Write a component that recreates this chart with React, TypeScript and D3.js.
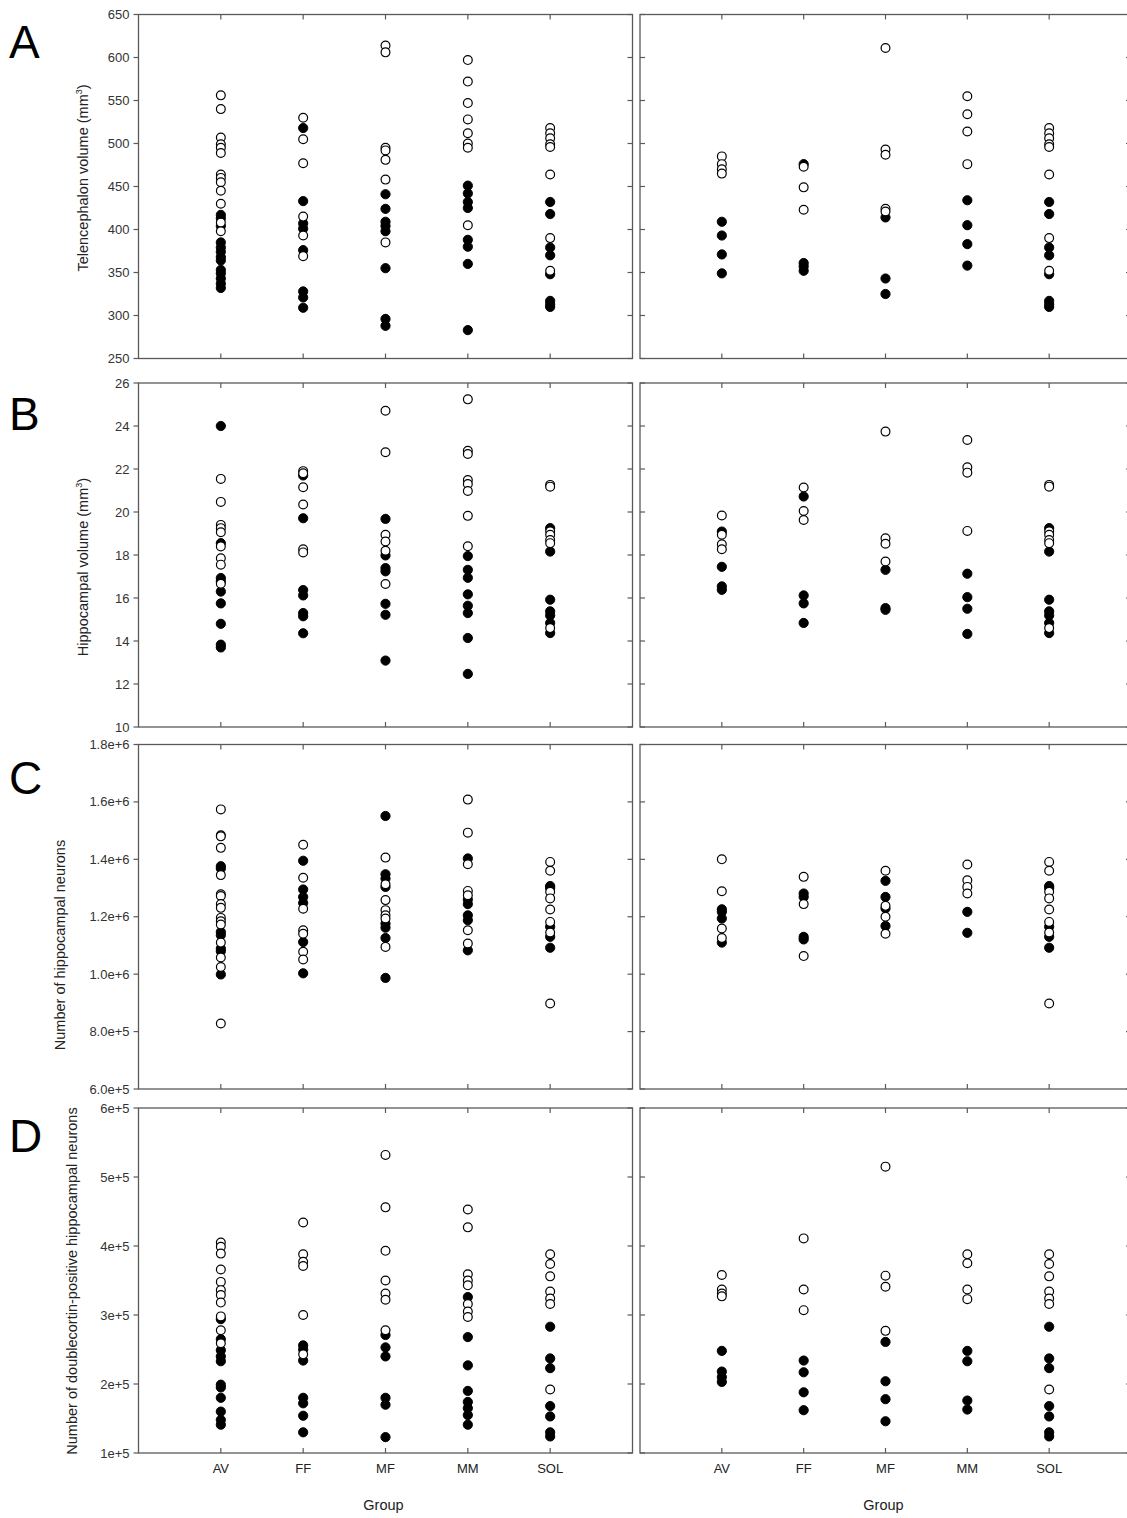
import React, { useEffect, useRef } from "react";
import * as d3 from "d3";

const groups = ["AV", "FF", "MF", "MM", "SOL"];

// A: telencephalon volume (mm3) - left / right panels, per group
const telOpenL = [
  [556, 540, 507, 499, 495, 489, 464, 460, 455, 445, 430, 408, 398],
  [530, 505, 477, 415, 393, 369],
  [614, 606, 495, 492, 481, 458, 385],
  [597, 572, 547, 528, 512, 500, 495, 405],
  [518, 512, 506, 499, 496, 464, 390, 352],
];
const telFillL = [
  [417, 413, 404, 385, 379, 374, 368, 364, 353, 349, 343, 337, 332],
  [518, 433, 407, 401, 376, 328, 321, 309],
  [441, 424, 409, 404, 398, 355, 296, 288],
  [451, 442, 432, 425, 388, 380, 360, 283],
  [432, 418, 379, 370, 348, 317, 313, 310],
];
const telOpenR = [
  [485, 476, 470, 465],
  [473, 449, 423],
  [611, 493, 487, 424, 421],
  [555, 534, 514, 476],
  telOpenL[4],
];
const telFillR = [
  [409, 393, 371, 349],
  [476, 361, 357, 352],
  [414, 343, 325],
  [434, 405, 383, 358],
  telFillL[4],
];

// B: hippocampal volume (mm3)
const hipOpenL = [
  [21.54, 20.47, 19.4, 19.25, 19.06, 18.4, 17.85, 17.55, 16.66],
  [21.9, 21.8, 21.15, 20.35, 18.27, 18.12],
  [24.71, 22.78, 18.94, 18.63, 18.2, 16.65],
  [25.24, 22.85, 22.7, 21.49, 21.3, 20.98, 19.82, 18.41],
  [21.26, 21.18, 19.1, 18.94, 18.7, 18.55, 14.6],
];
const hipFillL = [
  [24.0, 18.55, 16.93, 16.77, 16.3, 15.75, 14.8, 13.83, 13.7],
  [21.7, 19.71, 16.37, 16.12, 15.3, 15.15, 14.36],
  [19.68, 17.98, 17.39, 17.24, 15.73, 15.22, 13.09],
  [17.95, 17.31, 16.94, 16.17, 15.64, 15.3, 14.14, 12.47],
  [19.25, 18.16, 15.92, 15.38, 15.19, 14.84, 14.37],
];
const hipOpenR = [
  [19.84, 18.94, 18.5, 18.27],
  [21.14, 20.05, 19.63],
  [23.74, 18.78, 18.52, 17.7],
  [23.35, 22.08, 21.83, 19.12],
  hipOpenL[4],
];
const hipFillR = [
  [19.09, 17.45, 16.54, 16.38],
  [20.72, 16.12, 15.75, 14.84],
  [17.31, 15.53, 15.45],
  [17.13, 16.04, 15.5, 14.33],
  hipFillL[4],
];

// C: number of hippocampal neurons
const neuOpenL = [
  [1.574e6, 1.484e6, 1.48e6, 1.44e6, 1.345e6, 1.278e6, 1.272e6, 1.244e6, 1.231e6, 1.196e6, 1.184e6, 1.173e6, 1.11e6, 1.058e6, 1.025e6, 8.28e5],
  [1.451e6, 1.336e6, 1.228e6, 1.153e6, 1.141e6, 1.078e6, 1.051e6],
  [1.406e6, 1.313e6, 1.258e6, 1.223e6, 1.205e6, 1.194e6, 1.095e6],
  [1.608e6, 1.493e6, 1.383e6, 1.29e6, 1.275e6, 1.153e6, 1.107e6],
  [1.391e6, 1.36e6, 1.287e6, 1.264e6, 1.225e6, 1.182e6, 1.145e6, 8.98e5],
];
const neuFillL = [
  [1.376e6, 1.368e6, 1.147e6, 1.136e6, 1.089e6, 1.08e6, 9.99e5],
  [1.395e6, 1.295e6, 1.269e6, 1.248e6, 1.112e6, 1.003e6],
  [1.551e6, 1.348e6, 1.333e6, 1.304e6, 1.176e6, 1.162e6, 1.126e6, 9.87e5],
  [1.403e6, 1.26e6, 1.244e6, 1.205e6, 1.188e6, 1.083e6],
  [1.307e6, 1.3e6, 1.165e6, 1.13e6, 1.092e6],
];
const neuOpenR = [
  [1.4e6, 1.289e6, 1.159e6, 1.126e6],
  [1.339e6, 1.244e6, 1.063e6],
  [1.36e6, 1.238e6, 1.2e6, 1.141e6],
  [1.382e6, 1.327e6, 1.304e6, 1.281e6],
  neuOpenL[4],
];
const neuFillR = [
  [1.226e6, 1.217e6, 1.194e6, 1.11e6],
  [1.281e6, 1.269e6, 1.13e6, 1.121e6],
  [1.325e6, 1.269e6, 1.229e6, 1.168e6],
  [1.217e6, 1.144e6],
  neuFillL[4],
];

// D: doublecortin-positive hippocampal neurons
const dcxOpenL = [
  [4.05e5, 3.99e5, 3.89e5, 3.66e5, 3.48e5, 3.36e5, 3.29e5, 3.18e5, 2.98e5, 2.78e5, 2.59e5],
  [4.34e5, 3.88e5, 3.77e5, 3.71e5, 3.0e5, 2.43e5],
  [5.32e5, 4.56e5, 3.93e5, 3.5e5, 3.31e5, 3.22e5, 2.78e5],
  [4.53e5, 4.27e5, 3.59e5, 3.5e5, 3.43e5, 3.16e5, 3.05e5, 2.97e5],
  [3.88e5, 3.74e5, 3.56e5, 3.34e5, 3.24e5, 3.16e5, 1.92e5],
];
const dcxFillL = [
  [2.94e5, 2.65e5, 2.49e5, 2.4e5, 2.33e5, 1.99e5, 1.95e5, 1.8e5, 1.6e5, 1.48e5, 1.41e5],
  [2.56e5, 2.5e5, 2.34e5, 1.8e5, 1.72e5, 1.54e5, 1.3e5],
  [2.71e5, 2.53e5, 2.4e5, 1.8e5, 1.7e5, 1.23e5],
  [3.26e5, 2.68e5, 2.27e5, 1.9e5, 1.74e5, 1.65e5, 1.55e5, 1.41e5],
  [2.83e5, 2.37e5, 2.23e5, 1.68e5, 1.53e5, 1.3e5, 1.24e5],
];
const dcxOpenR = [
  [3.58e5, 3.37e5, 3.31e5, 3.27e5],
  [4.11e5, 3.37e5, 3.07e5],
  [5.15e5, 3.57e5, 3.41e5, 2.77e5],
  [3.88e5, 3.75e5, 3.37e5, 3.23e5],
  dcxOpenL[4],
];
const dcxFillR = [
  [2.48e5, 2.18e5, 2.1e5, 2.03e5],
  [2.34e5, 2.17e5, 1.88e5, 1.62e5],
  [2.61e5, 2.04e5, 1.78e5, 1.46e5],
  [2.48e5, 2.33e5, 1.76e5, 1.63e5],
  dcxFillL[4],
];

const telTicks = [250, 300, 350, 400, 450, 500, 550, 600, 650];
const hipTicks = [10, 12, 14, 16, 18, 20, 22, 24, 26];
const neuTicks = [6e5, 8e5, 1e6, 1.2e6, 1.4e6, 1.6e6, 1.8e6];
const dcxTicks = [1e5, 2e5, 3e5, 4e5, 5e5, 6e5];

const rows = [
  { letter: "A", top: 14.5, bottom: 358.5, letterY: 58, ticks: telTicks, fmt: (v) => String(v),
    label: "Telencephalon volume (mm", sup: true, labelX: 88, labelY: 178,
    data: [[telOpenL, telFillL], [telOpenR, telFillR]] },
  { letter: "B", top: 383, bottom: 727, letterY: 430, ticks: hipTicks, fmt: (v) => String(v),
    label: "Hippocampal volume (mm", sup: true, labelX: 88, labelY: 567,
    data: [[hipOpenL, hipFillL], [hipOpenR, hipFillR]] },
  { letter: "C", top: 744.5, bottom: 1089, letterY: 794, ticks: neuTicks, fmt: d3.format(".1e"),
    label: "Number of hippocampal neurons", sup: false, labelX: 65, labelY: 945,
    data: [[neuOpenL, neuFillL], [neuOpenR, neuFillR]] },
  { letter: "D", top: 1108, bottom: 1453, letterY: 1152, ticks: dcxTicks, fmt: d3.format(".0e"),
    label: "Number of doublecortin-positive hippocampal neurons", sup: false, labelX: 77, labelY: 1281,
    data: [[dcxOpenL, dcxFillL], [dcxOpenR, dcxFillR]] },
];

const cols = [
  { left: 138.5, right: 632.5 },
  { left: 640, right: 1131 },
];

const App = () => {
  const svgRef = useRef(null);

  useEffect(() => {
    const svg = d3.select(svgRef.current);
    svg.selectAll("*").remove();
    const font = "'Liberation Sans', Arial, Helvetica, sans-serif";
    const ink = "#5a5a5a";
    const tl = 5;

    svg.append("rect").attr("width", 1127).attr("height", 1518).attr("fill", "#fff");

    rows.forEach((row, ri) => {
      const y = d3.scaleLinear().domain([row.ticks[0], row.ticks[row.ticks.length - 1]]).range([row.bottom, row.top]);

      // panel letter
      svg.append("text").attr("x", 9).attr("y", row.letterY)
        .attr("font-family", font).attr("font-size", 46).attr("fill", "#000")
        .text(row.letter);

      // y axis label
      const lab = svg.append("text")
        .attr("transform", `translate(${row.labelX},${row.labelY}) rotate(-90)`)
        .attr("text-anchor", "middle")
        .attr("font-family", font).attr("font-size", 14.5).attr("fill", "#222")
        .text(row.label);
      if (row.sup) {
        lab.append("tspan").attr("font-size", 9).attr("dy", -6).text("3");
        lab.append("tspan").attr("dy", 6).text(")");
      }

      cols.forEach((col, ci) => {
        const x = d3.scalePoint().domain(groups).range([col.left, col.right]).padding(1);
        const g = svg.append("g");

        // frame
        g.append("rect")
          .attr("x", col.left).attr("y", row.top)
          .attr("width", col.right - col.left).attr("height", row.bottom - row.top)
          .attr("fill", "none").attr("stroke", ink).attr("stroke-width", 1.3);

        // y ticks
        row.ticks.forEach((t) => {
          const yy = y(t);
          if (ci === 0) {
            g.append("line").attr("x1", col.left - tl).attr("x2", col.left).attr("y1", yy).attr("y2", yy)
              .attr("stroke", ink).attr("stroke-width", 1.2);
            g.append("text").attr("x", col.left - 9).attr("y", yy).attr("dy", "0.35em")
              .attr("text-anchor", "end").attr("font-family", font).attr("font-size", 13)
              .attr("fill", "#333").text(row.fmt(t));
          } else {
            g.append("line").attr("x1", col.left).attr("x2", col.left + tl).attr("y1", yy).attr("y2", yy)
              .attr("stroke", ink).attr("stroke-width", 1.2);
          }
          g.append("line").attr("x1", col.right - tl).attr("x2", col.right).attr("y1", yy).attr("y2", yy)
            .attr("stroke", ink).attr("stroke-width", 1.2);
        });

        // x ticks (inward, top and bottom)
        groups.forEach((gr) => {
          const xx = x(gr);
          g.append("line").attr("x1", xx).attr("x2", xx).attr("y1", row.top).attr("y2", row.top + tl)
            .attr("stroke", ink).attr("stroke-width", 1.2);
          g.append("line").attr("x1", xx).attr("x2", xx).attr("y1", row.bottom - tl).attr("y2", row.bottom)
            .attr("stroke", ink).attr("stroke-width", 1.2);
        });

        if (ri === rows.length - 1) {
          groups.forEach((gr) => {
            g.append("text").attr("x", x(gr)).attr("y", 1473).attr("text-anchor", "middle")
              .attr("font-family", font).attr("font-size", 13).attr("fill", "#222").text(gr);
          });
          g.append("text").attr("x", (col.left + col.right) / 2 - 2).attr("y", 1510).attr("text-anchor", "middle")
            .attr("font-family", font).attr("font-size", 14.5).attr("fill", "#222").text("Group");
        }

        // points: filled first, open drawn on top
        const [openVals, fillVals] = row.data[ci];
        const filled = fillVals.flatMap((vals, i) => vals.map((v) => [groups[i], v]));
        const open = openVals.flatMap((vals, i) => vals.map((v) => [groups[i], v]));
        g.selectAll(".f").data(filled).enter().append("circle")
          .attr("cx", (d) => x(d[0])).attr("cy", (d) => y(d[1])).attr("r", 4.6)
          .attr("fill", "#000").attr("stroke", "#000").attr("stroke-width", 1);
        g.selectAll(".o").data(open).enter().append("circle")
          .attr("cx", (d) => x(d[0])).attr("cy", (d) => y(d[1])).attr("r", 4.4)
          .attr("fill", "#fff").attr("stroke", "#000").attr("stroke-width", 1.2);
      });
    });
  }, []);

  return (
    <svg ref={svgRef} width={1127} height={1518}
      style={{ position: "absolute", left: 0, top: 0, display: "block" }} />
  );
};

export default App;
